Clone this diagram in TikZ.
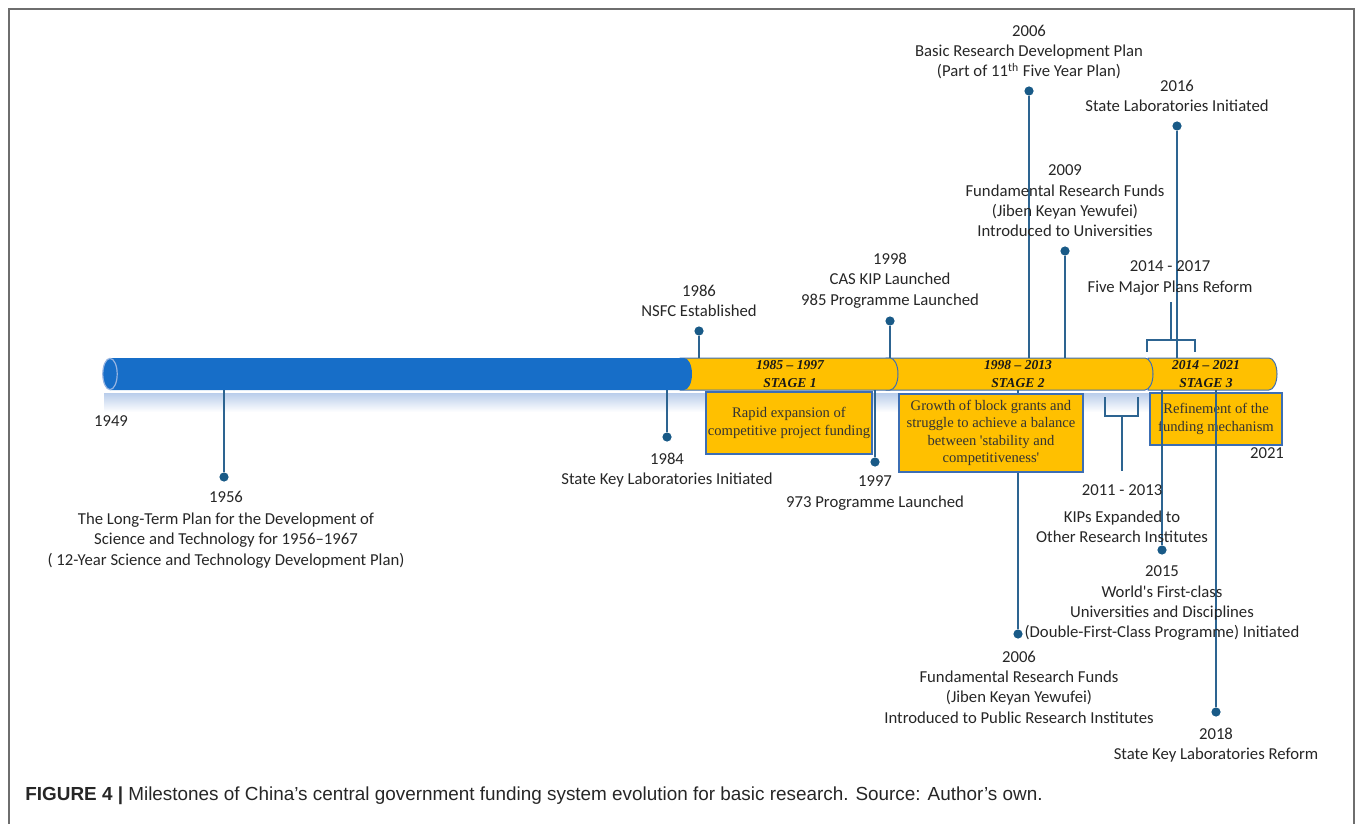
\documentclass[tikz,border=0pt]{standalone}
\usepackage{fontspec}
\setmainfont{Carlito}
\newfontfamily\lblfont{Carlito}
\newfontfamily\boxfont{Liberation Serif}
\newfontfamily\capfont{Liberation Sans}
\definecolor{barblue}{RGB}{23,110,200}
\definecolor{capblue}{RGB}{150,180,225}
\definecolor{reflblue}{RGB}{185,205,235}
\definecolor{stageyellow}{RGB}{255,192,0}
\definecolor{boxline}{RGB}{60,110,180}
\definecolor{linec}{RGB}{45,100,145}
\definecolor{dotc}{RGB}{25,90,135}
\definecolor{framec}{RGB}{110,110,110}
\definecolor{lblc}{RGB}{38,38,38}
\tikzset{
  lbl/.style={align=center, inner sep=0pt, anchor=north, text=lblc, font=\lblfont\fontsize{8.35}{10.2}\selectfont},
  conn/.style={draw=linec, line width=0.75pt},
  dot/.style={circle, fill=dotc, inner sep=0pt, minimum size=4.6pt},
  descbox/.style={draw=boxline, fill=stageyellow, line width=0.6pt, align=center, inner sep=0pt, text=black!80, font=\boxfont\fontsize{7.3}{8.6}\selectfont},
  stagelbl/.style={align=center, inner sep=0pt, text=black!90, font=\boxfont\bfseries\itshape\fontsize{6.8}{9}\selectfont},
  segment/.style={fill=stageyellow, draw=boxline, line width=0.5pt},
  bracket/.style={draw=linec, line width=0.75pt}
}
\begin{document}
\begin{tikzpicture}[x=0.5pt,y=-0.5pt]
\useasboundingbox (0,0) rectangle (1355,824);
% frame
\draw[framec, line width=1pt] (9,824) -- (9,9) -- (1354,9) -- (1354,824);
% reflection
\shade[top color=reflblue, bottom color=white] (104,393) rectangle (1150,412);
% stage segments (right to left)
\path[segment] (1148,358) -- (1269,358) arc[start angle=90, end angle=-90, x radius=4pt, y radius=8pt] -- (1148,390) -- cycle;
\path[segment] (886,358) -- (1145,358) arc[start angle=90, end angle=-90, x radius=4pt, y radius=8pt] -- (886,390) -- cycle;
\path[segment] (680,358) -- (890,358) arc[start angle=90, end angle=-90, x radius=4pt, y radius=8pt] -- (680,390) -- cycle;
% blue bar
\fill[barblue] (110,358) -- (684,358) arc[start angle=90, end angle=-90, x radius=4pt, y radius=8pt] -- (110,390) -- cycle;
\draw[capblue, fill=barblue, line width=0.6pt] (110,374) ellipse[x radius=3.6pt, y radius=7.8pt];
% stage labels
\node[stagelbl] (s1) at (790,374) {1985 – 1997\\STAGE 1};
\node[stagelbl] (s2) at (1018,374) {1998 – 2013\\STAGE 2};
\node[stagelbl] (s3) at (1206,374) {2014 – 2021\\STAGE 3};
% anchor coordinates on bar
\coordinate (b1956) at (224,390);
\coordinate (b1984) at (667,390);
\coordinate (t1986) at (699,358);
\coordinate (b1997) at (875,390);
\coordinate (t1998) at (890,358);
\coordinate (t2006) at (1029,358);
\coordinate (b2006) at (1018,390);
\coordinate (t2009) at (1065,358);
\coordinate (t2016) at (1177,358);
\coordinate (b2015) at (1162,390);
\coordinate (b2018) at (1216,390);
% dots
\node[dot] (d1956) at (224,477) {};
\node[dot] (d1984) at (667,437) {};
\node[dot] (d1986) at (699,331) {};
\node[dot] (d1997) at (875,462) {};
\node[dot] (d1998) at (890,321) {};
\node[dot] (d2006t) at (1029,91) {};
\node[dot] (d2009) at (1065,251) {};
\node[dot] (d2016) at (1177,126) {};
\node[dot] (d2006b) at (1018,634) {};
\node[dot] (d2015) at (1162,550) {};
\node[dot] (d2018) at (1216,712) {};
% connectors behind box 2
\draw[conn] (b2006) -- (d2006b);
% description boxes
\node[descbox, minimum width=83pt, minimum height=31pt] (box1) at (789,423) {Rapid expansion of\\competitive project funding};
\node[descbox, minimum width=92pt, minimum height=39pt] (box2) at (991,433) {Growth of block grants and\\struggle to achieve a balance\\between 'stability and\\competitiveness'};
\node[descbox, minimum width=66pt, minimum height=26pt] (box3) at (1216,419) {Refinement of the\\funding mechanism};
% connectors
\draw[conn] (b1956) -- (d1956);
\draw[conn] (b1984) -- (d1984);
\draw[conn] (d1986) -- (t1986);
\draw[conn] (b1997) -- (d1997);
\draw[conn] (d1998) -- (t1998);
\draw[conn] (d2006t) -- (t2006);
\draw[conn] (d2009) -- (t2009);
\draw[conn] (d2016) -- (t2016);
\draw[conn] (b2015) -- (d2015);
\draw[conn] (b2018) -- (d2018);
% brackets
\coordinate (br1top) at (1171,302);
\coordinate (br1mid) at (1171,340);
\draw[bracket] (br1top) -- (br1mid);
\draw[bracket] (1147,352) -- (1147,340) -- (1195,340) -- (1195,352);
\coordinate (br2mid) at (1122,416);
\coordinate (br2bot) at (1122,471);
\draw[bracket] (1105,397) -- (1105,416) -- (1138,416) -- (1138,397);
\draw[bracket] (br2mid) -- (br2bot);
% labels
\node[lbl, anchor=center] (l1949) at (111,421) {1949};
\node[lbl] (l1956) at (226,490.5) {1956\\[1pt]The Long-Term Plan for the Development of\\Science and Technology for 1956–1967\\( 12-Year Science and Technology Development Plan)};
\node[lbl] (l1984) at (667,452.5) {1984\\State Key Laboratories Initiated};
\node[lbl] (l1986) at (699,284.5) {1986\\NSFC Established};
\node[lbl] (l1997) at (875,475.5) {1997\\973 Programme Launched};
\node[lbl] (l1998) at (890,252.5) {1998\\CAS KIP Launched\\985 Programme Launched};
\node[lbl] (l2006t) at (1029,24.5) {2006\\Basic Research Development Plan\\(Part of 11\textsuperscript{th} Five Year Plan)};
\node[lbl] (l2009) at (1065,164.5) {2009\\Fundamental Research Funds\\(Jiben Keyan Yewufei)\\Introduced to Universities};
\node[lbl] (l2016) at (1177,79.5) {2016\\State Laboratories Initiated};
\node[lbl] (l2014) at (1170,260.5) {2014 - 2017\\Five Major Plans Reform};
\node[lbl] (l2011) at (1122,484.5) {2011 - 2013\\[3pt]KIPs Expanded to\\Other Research Institutes};
\node[lbl] (l2015) at (1162,565.5) {2015\\World's First-class\\Universities and Disciplines\\(Double-First-Class Programme) Initiated};
\node[lbl] (l2006b) at (1019,650.5) {2006\\Fundamental Research Funds\\(Jiben Keyan Yewufei)\\Introduced to Public Research Institutes};
\node[lbl] (l2018) at (1216,727.5) {2018\\State Key Laboratories Reform};
\node[lbl, anchor=center] (l2021) at (1267,453) {2021};
% caption
\node[anchor=west, inner sep=0pt, text=black!85, font=\capfont\fontsize{9.45}{11}\selectfont] (cap) at (25,796) {\textbf{FIGURE 4 |} Milestones of China’s central government funding system evolution for basic research. Source: Author’s own.};
\end{tikzpicture}
\end{document}
